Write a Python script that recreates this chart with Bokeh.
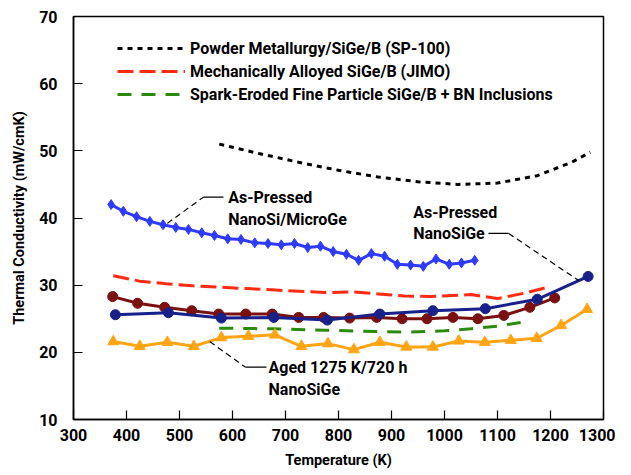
from bokeh.plotting import figure
from bokeh.models import Legend, LegendItem, Range1d, FixedTicker, Label
from bokeh.embed import file_html
from bokeh.resources import INLINE

# ---------------- data ----------------
sp100_T = [575, 650, 725, 800, 875, 950, 1025, 1100, 1175, 1240, 1275]
sp100_k = [51.0, 49.6, 48.3, 47.1, 46.1, 45.4, 45.0, 45.2, 46.3, 48.3, 49.8]

jimo_T = [375, 425, 475, 525, 575, 625, 675, 725, 775, 825, 875, 925, 975, 1025, 1050, 1100, 1150, 1195]
jimo_k = [31.4, 30.6, 30.2, 29.9, 29.7, 29.5, 29.3, 29.1, 28.9, 29.0, 28.7, 28.4, 28.3, 28.5, 28.6, 28.0, 28.8, 29.7]

spark_T = [575, 675, 775, 875, 925, 1000, 1050, 1100, 1155]
spark_k = [23.6, 23.5, 23.3, 23.1, 23.0, 23.2, 23.5, 23.9, 24.6]

nsmg_T = [371, 394, 419, 444, 469, 493, 517, 542, 566, 591, 616, 642, 667, 692, 717,
          742, 766, 790, 815, 838, 862, 887, 911, 936, 960, 984, 1009, 1032, 1057]
nsmg_k = [42.0, 41.0, 40.2, 39.5, 39.0, 38.6, 38.3, 37.8, 37.4, 36.9, 36.8, 36.3, 36.2, 36.0, 36.2,
          35.6, 35.8, 35.0, 34.6, 33.7, 34.7, 34.3, 33.1, 33.0, 32.8, 33.9, 33.1, 33.3, 33.7]

darkred_T = [374, 421, 472, 523, 574, 625, 675, 725, 772, 821, 872, 920, 967, 1016, 1063, 1112, 1161, 1208]
darkred_k = [28.3, 27.3, 26.7, 26.2, 25.7, 25.7, 25.7, 25.2, 25.2, 25.1, 25.2, 25.0, 25.0, 25.2, 25.0, 25.5, 26.7, 28.1]

nano_T = [379, 479, 579, 678, 779, 878, 978, 1077, 1175, 1271]
nano_k = [25.6, 25.9, 25.1, 25.2, 24.8, 25.7, 26.2, 26.5, 27.9, 31.3]

aged_T = [375, 425, 477, 527, 579, 630, 680, 730, 780, 829, 878, 928, 978, 1027, 1076, 1125, 1174, 1220, 1269]
aged_k = [21.6, 20.9, 21.5, 20.9, 22.2, 22.4, 22.6, 20.9, 21.3, 20.4, 21.5, 20.8, 20.8, 21.7, 21.5, 21.8, 22.1, 24.0, 26.4]

x_ticks = [300, 400, 500, 600, 700, 800, 900, 1000, 1100, 1200, 1300]
y_ticks = [10, 20, 30, 40, 50, 60, 70]

legend_labels = ["Powder Metallurgy/SiGe/B (SP-100)",
                 "Mechanically Alloyed SiGe/B (JIMO)",
                 "Spark-Eroded Fine Particle SiGe/B + BN Inclusions"]

FONT = "Roboto"

p = figure(frame_width=530, frame_height=403, output_backend="svg", toolbar_location=None,
           x_range=Range1d(300, 1300), y_range=Range1d(10, 70),
           min_border_left=73, min_border_top=16, min_border_right=12, min_border_bottom=5)
p.background_fill_color = "white"
p.border_fill_color = "white"
p.grid.visible = False
p.outline_line_color = "black"
p.outline_line_width = 1.5

for ax, ticks in ((p.xaxis[0], x_ticks), (p.yaxis[0], y_ticks)):
    ax.ticker = FixedTicker(ticks=ticks)
    ax.major_tick_in = 9
    ax.major_tick_out = 0
    ax.minor_tick_in = 0
    ax.minor_tick_out = 0
    ax.axis_line_width = 1.5
    ax.major_tick_line_width = 1.2
    ax.major_label_text_font = FONT
    ax.major_label_text_font_style = "bold"
    ax.major_label_text_font_size = "16px"
    ax.major_label_text_color = "black"
    ax.axis_label_text_font = FONT
    ax.axis_label_text_font_style = "bold"
    ax.axis_label_text_font_size = "14.5px"
    ax.axis_label_text_color = "black"

p.xaxis.axis_label = "Temperature (K)"
p.yaxis.axis_label = "Thermal Conductivity (mW/cmK)"
p.xaxis.major_label_standoff = 9
p.xaxis.axis_label_standoff = 8
p.yaxis.major_label_standoff = 16
p.yaxis.axis_label_standoff = 8

# dashed reference lines
r_sp = p.line(sp100_T, sp100_k, line_color="black", line_width=3, line_dash="5 5")
r_jimo = p.line(jimo_T, jimo_k, line_color="#FF2A10", line_width=3, line_dash="16 6")
r_spark = p.line(spark_T, spark_k, line_color="#2A8A0A", line_width=3, line_dash="14 10")

# marker series
p.line(nsmg_T, nsmg_k, line_color="#2E3BFF", line_width=3)
p.scatter(nsmg_T, nsmg_k, marker="diamond", size=10, fill_color="#2E3BFF", line_color="#2E3BFF")

p.line(darkred_T, darkred_k, line_color="#7A1010", line_width=3)
p.scatter(darkred_T, darkred_k, marker="circle", size=10, fill_color="#7A1010", line_color="#7A1010")

p.line(nano_T, nano_k, line_color="#18208A", line_width=3)
p.scatter(nano_T, nano_k, marker="circle", size=10, fill_color="#18208A", line_color="#18208A")

p.line(aged_T, aged_k, line_color="#FFA515", line_width=3)
p.scatter(aged_T, aged_k, marker="triangle", size=11, fill_color="#FFA515", line_color="#FFA515")

# legend
legend = Legend(items=[LegendItem(label=legend_labels[0], renderers=[r_sp]),
                       LegendItem(label=legend_labels[1], renderers=[r_jimo]),
                       LegendItem(label=legend_labels[2], renderers=[r_spark])],
                location=(44, 315), border_line_color=None, background_fill_alpha=0,
                padding=0, margin=0, spacing=3, glyph_width=68, glyph_height=20,
                label_height=20, label_standoff=5,
                label_text_font=FONT, label_text_font_style="bold",
                label_text_font_size="16px", label_text_color="black")
p.add_layout(legend, "center")

# annotations: leaders
def leader(xs, ys, dash):
    p.line(xs, ys, line_color="black", line_width=1.2, line_dash=dash)

leader([477, 545], [39.2, 43.1], "6 4")
leader([545, 583], [43.1, 43.1], "solid")
leader([1083, 1121], [37.7, 37.7], "solid")
leader([1121, 1253], [37.7, 30.7], "6 4")
leader([557, 624], [21.6, 17.8], "6 4")
leader([624, 664], [17.8, 17.8], "solid")

def note(x, y, t):
    p.add_layout(Label(x=x, y=y, text=t, text_font=FONT, text_font_style="bold",
                       text_font_size="16px", text_color="black",
                       text_baseline="middle", text_align="left"))

note(592, 43.0, "As-Pressed")
note(592, 39.8, "NanoSi/MicroGe")
note(941, 40.85, "As-Pressed")
note(941, 37.7, "NanoSiGe")
note(668, 17.8, "Aged 1275 K/720 h")
note(668, 14.4, "NanoSiGe")

open("out.html", "w").write(file_html(p, INLINE))
